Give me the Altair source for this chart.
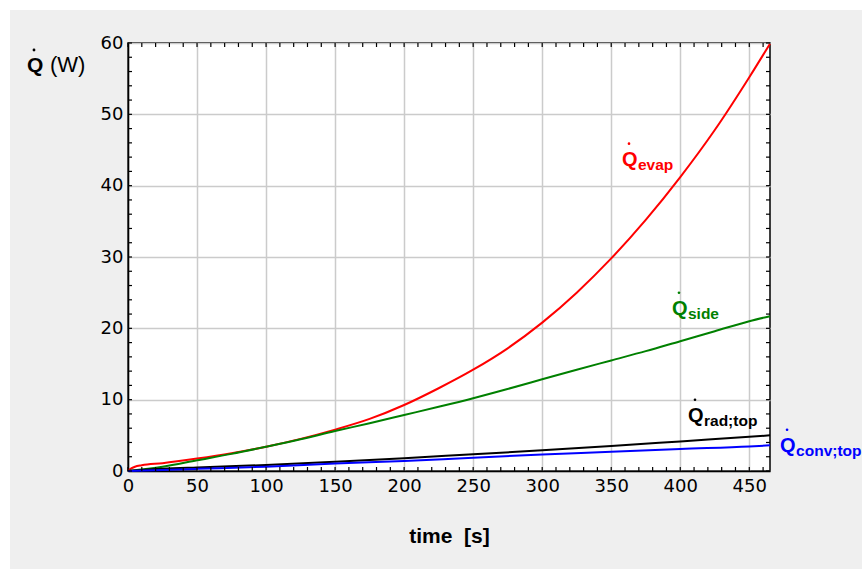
import altair as alt
import pandas as pd

# ---- data ----
t_evap = [0, 5, 10, 25, 50, 75, 100, 125, 150, 175, 200, 225, 250, 275, 300, 325, 350, 375, 400, 425, 450, 465]
q_evap = [0.1, 0.6, 0.8, 1.1, 1.75, 2.5, 3.4, 4.5, 5.8, 7.3, 9.25, 11.6, 14.2, 17.2, 20.8, 25.0, 29.8, 35.2, 41.2, 47.8, 55.2, 59.9]
t_side = [0, 25, 50, 75, 100, 125, 150, 175, 200, 225, 250, 275, 300, 325, 350, 375, 400, 425, 450, 465]
q_side = [0.0, 0.6, 1.5, 2.4, 3.4, 4.45, 5.6, 6.7, 7.85, 9.0, 10.2, 11.5, 12.85, 14.2, 15.5, 16.8, 18.2, 19.6, 21.0, 21.7]
t_top = [0, 25, 50, 100, 150, 200, 250, 300, 350, 400, 450, 465]
q_rad = [0.0, 0.3, 0.5, 0.85, 1.3, 1.8, 2.35, 2.9, 3.5, 4.15, 4.8, 5.0]
q_conv = [0.0, 0.15, 0.3, 0.6, 1.05, 1.4, 1.87, 2.3, 2.7, 3.1, 3.45, 3.6]

series_colors = ["#ff0000", "#008000", "#000000", "#0000ff"]

# series label anchors (data units) and subscripts
label_sub = ["evap", "side", "rad;top", "conv;top"]
label_t = [357.8, 394.0, 405.6, 472.3]
label_q = [42.8, 21.9, 6.9, 2.7]

x_major = [0, 50, 100, 150, 200, 250, 300, 350, 400, 450]
y_major = [0, 10, 20, 30, 40, 50, 60]
x_minor = list(range(0, 461, 10))
y_minor = list(range(0, 61, 2))

W, H = 642, 428

xscale = alt.Scale(domain=[0, 465], nice=False, zero=False)
yscale = alt.Scale(domain=[0, 60], nice=False, zero=False)

xaxis = alt.Axis(values=x_major, grid=True, gridColor="#cbcbcb", gridWidth=1.5,
                 ticks=False, tickSize=0, domainColor="black", domainWidth=1.5,
                 labelFont="DejaVu Sans", labelFontSize=18, labelColor="black",
                 labelPadding=6, labelFlush=False, labelOverlap=False,
                 title="time\u00a0\u00a0[s]", titleFont="Liberation Sans", titleFontSize=21,
                 titleFontWeight="bold", titleColor="black", titlePadding=30)
yaxis = alt.Axis(values=y_major, grid=True, gridColor="#cbcbcb", gridWidth=1.5,
                 ticks=False, tickSize=0, domainColor="black", domainWidth=1.5,
                 labelFont="DejaVu Sans", labelFontSize=18, labelColor="black",
                 labelPadding=5, labelFlush=False, labelOverlap=False, title=None)

X = lambda: alt.X("t:Q", scale=xscale, axis=xaxis)
Y = lambda: alt.Y("q:Q", scale=yscale, axis=yaxis)


def line(ts, qs, color):
    df = pd.DataFrame({"t": ts, "q": qs})
    return alt.Chart(df).mark_line(color=color, strokeWidth=2, interpolate="monotone").encode(x=X(), y=Y())


lines = [line(t_evap, q_evap, series_colors[0]),
         line(t_side, q_side, series_colors[1]),
         line(t_top, q_rad, series_colors[2]),
         line(t_top, q_conv, series_colors[3])]

# inward ticks on all four sides
dfx = pd.DataFrame({"t": x_minor})
dfy = pd.DataFrame({"q": y_minor})
tk = dict(color="black", strokeWidth=1.2)
ticks = [
    alt.Chart(dfx).mark_rule(**tk).encode(x=X(), y=alt.value(H), y2=alt.value(H - 4)),
    alt.Chart(dfx).mark_rule(**tk).encode(x=X(), y=alt.value(0), y2=alt.value(4)),
    alt.Chart(dfy).mark_rule(**tk).encode(y=Y(), x=alt.value(0), x2=alt.value(4)),
    alt.Chart(dfy).mark_rule(**tk).encode(y=Y(), x=alt.value(W), x2=alt.value(W - 4)),
]

# series labels
lab = pd.DataFrame({"t": label_t, "q": label_q, "sub": label_sub, "col": series_colors})
col = alt.Color("col:N", scale=None)
lab_q = alt.Chart(lab).mark_text(text="Q", align="left", baseline="alphabetic", font="Liberation Sans",
                                 fontSize=20, fontWeight="bold").encode(x=X(), y=Y(), color=col)
lab_sub = alt.Chart(lab).mark_text(align="left", baseline="alphabetic", font="Liberation Sans",
                                   fontSize=15.5, fontWeight="bold", dx=16, dy=4).encode(
    x=X(), y=Y(), text="sub:N", color=col)
lab_dot = alt.Chart(lab).mark_circle(size=7, opacity=1, xOffset=7, yOffset=-22).encode(x=X(), y=Y(), color=col)

one = pd.DataFrame({"a": [0]})
ytitle_q = alt.Chart(one).mark_text(text="Q", align="left", baseline="alphabetic", font="Liberation Sans",
                                    fontSize=21, fontWeight="bold", color="black").encode(
    x=alt.value(-101), y=alt.value(29))
ytitle_w = alt.Chart(one).mark_text(text="(W)", align="left", baseline="alphabetic", font="Liberation Sans",
                                    fontSize=22, color="black").encode(x=alt.value(-78), y=alt.value(29))
ytitle_dot = alt.Chart(one).mark_circle(size=8, color="black", opacity=1).encode(x=alt.value(-94), y=alt.value(7))

# white outer margin on the left and top
strip_l = alt.Chart(one).mark_rect(color="white").encode(
    x=alt.value(-128), x2=alt.value(-118), y=alt.value(-43), y2=alt.value(H + 98))
strip_t = alt.Chart(one).mark_rect(color="white").encode(
    x=alt.value(-128), x2=alt.value(W + 92), y=alt.value(-43), y2=alt.value(-33))

chart = alt.layer(
    *lines, *ticks, lab_q, lab_sub, lab_dot, ytitle_q, ytitle_w, ytitle_dot, strip_l, strip_t
).properties(
    width=W, height=H,
    autosize=alt.AutoSizeParams(type="none"),
    padding={"left": 128, "top": 43, "right": 92, "bottom": 98},
    background="#efefef",
).configure_view(fill="white", stroke="black", strokeWidth=1.5)

chart.save("out.html", embed_options={"renderer": "svg", "actions": False})
